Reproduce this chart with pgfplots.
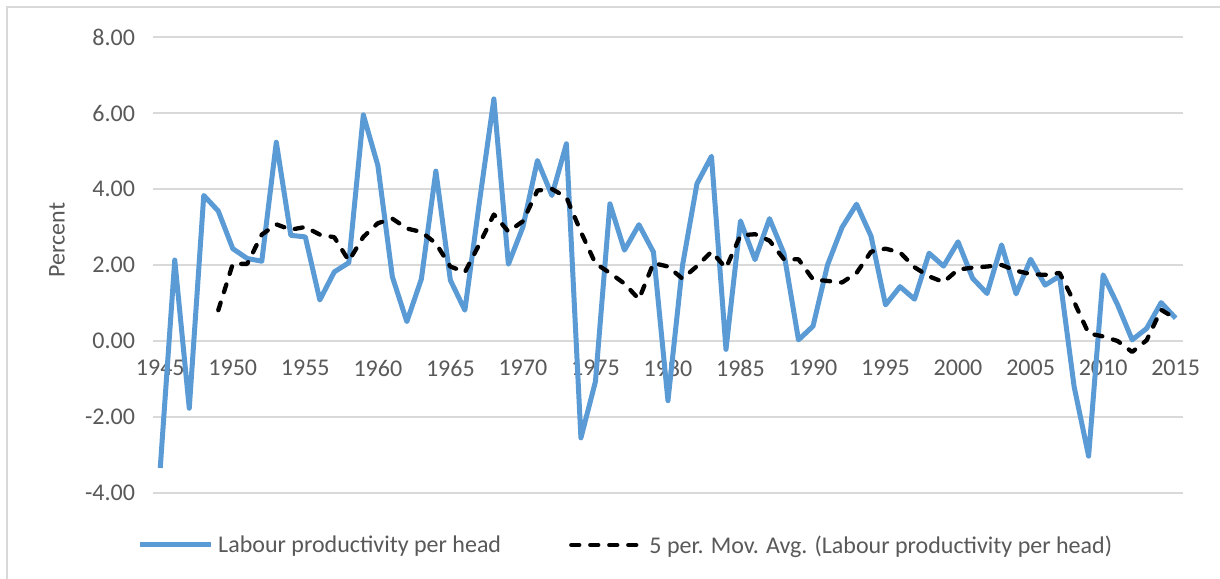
\documentclass[border=0pt]{standalone}
\usepackage{pgfplots}
\pgfplotsset{compat=1.18}
\usepackage{fontspec}
\setmainfont{Carlito}
\definecolor{lineblue}{HTML}{5B9BD5}
\definecolor{tickgray}{HTML}{595959}
\definecolor{gridgray}{HTML}{D9D9D9}
\begin{document}
\begin{tikzpicture}
\useasboundingbox (0,0) rectangle (1220bp,579bp);
\fill[white] (0,0) rectangle (1220bp,579bp);
\draw[gridgray, line width=1.5bp] (7bp,0) -- (7bp,572bp) -- (1220bp,572bp);
\begin{axis}[
  at={(153bp,86bp)}, anchor=south west,
  scale only axis, width=1030bp, height=456bp,
  xmin=1944.5, xmax=2015.5, ymin=-4, ymax=8,
  axis line style={draw=none},
  major tick length=0pt,
  ymajorgrids, grid style={gridgray, line width=1.5bp},
  ytick={-4,-2,0,2,4,6,8},
  yticklabels={-4.00,-2.00,0.00,2.00,4.00,6.00,8.00},
  xtick={1945,1950,...,2015},
  xticklabels={1945,1950,1955,1960,1965,1970,1975,1980,1985,1990,1995,2000,2005,2010,2015},
  every tick label/.append style={font=\fontsize{24bp}{28bp}\selectfont, text=tickgray},
  yticklabel style={xshift=-14.5bp},
  xticklabel style={yshift=136.5bp},
  every axis y label/.style={at={(axis description cs:-0.0932,0.555)}, rotate=90, anchor=center},
  ylabel={Percent},
  ylabel style={font=\fontsize{24bp}{28bp}\selectfont, text=tickgray},
  clip=false,
  legend columns=2,
  legend style={at={(axis description cs:-0.0155,-0.114)}, anchor=west, draw=none, fill=none, inner sep=0pt,
    font=\fontsize{24bp}{28bp}\selectfont, text=tickgray,
    nodes={inner sep=0pt, anchor=west},
    /tikz/every odd column/.append style={column sep=5bp},
    /tikz/every even column/.append style={column sep=68bp}},
  legend image code/.code={\draw[#1] (0bp,0bp) -- (71bp,0bp);},
]
\addplot[lineblue, line width=5bp, line join=round] coordinates {
(1945,-3.34) (1946,2.13) (1947,-1.77) (1948,3.83) (1949,3.42) (1950,2.43)
(1951,2.17) (1952,2.10) (1953,5.23) (1954,2.78) (1955,2.74) (1956,1.08)
(1957,1.82) (1958,2.06) (1959,5.95) (1960,4.62) (1961,1.69) (1962,0.51)
(1963,1.63) (1964,4.47) (1965,1.60) (1966,0.81) (1967,3.65) (1968,6.37)
(1969,2.02) (1970,3.00) (1971,4.75) (1972,3.83) (1973,5.19) (1974,-2.55)
(1975,-1.07) (1976,3.61) (1977,2.39) (1978,3.06) (1979,2.34) (1980,-1.57)
(1981,1.98) (1982,4.14) (1983,4.86) (1984,-0.22) (1985,3.16) (1986,2.14)
(1987,3.22) (1988,2.30) (1989,0.03) (1990,0.39) (1991,2.00) (1992,2.99)
(1993,3.60) (1994,2.76) (1995,0.95) (1996,1.43) (1997,1.10) (1998,2.31)
(1999,1.97) (2000,2.61) (2001,1.65) (2002,1.25) (2003,2.53) (2004,1.24)
(2005,2.15) (2006,1.47) (2007,1.71) (2008,-1.20) (2009,-3.03) (2010,1.74)
(2011,0.95) (2012,0.03) (2013,0.33) (2014,1.01) (2015,0.60)
};
\addlegendentry{Labour productivity per head}
\addplot[black, line width=4.3bp, line cap=round, line join=round, dash pattern=on 8bp off 11bp] coordinates {
(1949,0.81) (1950,2.03) (1951,2.03) (1952,2.80) (1953,3.07) (1954,2.93)
(1955,3.00) (1956,2.80) (1957,2.73) (1958,2.11) (1959,2.74) (1960,3.10)
(1961,3.22) (1962,2.96) (1963,2.87) (1964,2.57) (1965,1.96) (1966,1.81)
(1967,2.55) (1968,3.33) (1969,2.88) (1970,3.15) (1971,3.96) (1972,4.00)
(1973,3.78) (1974,2.87) (1975,2.04) (1976,1.79) (1977,1.51) (1978,1.10)
(1979,2.05) (1980,1.96) (1981,1.64) (1982,1.97) (1983,2.35) (1984,1.92)
(1985,2.78) (1986,2.81) (1987,2.64) (1988,2.15) (1989,2.15) (1990,1.62)
(1991,1.58) (1992,1.54) (1993,1.79) (1994,2.35) (1995,2.43) (1996,2.33)
(1997,1.94) (1998,1.70) (1999,1.55) (2000,1.88) (2001,1.93) (2002,1.96)
(2003,2.00) (2004,1.85) (2005,1.76) (2006,1.74) (2007,1.79) (2008,1.03)
(2009,0.20) (2010,0.12) (2011,0.00) (2012,-0.29) (2013,0.02) (2014,0.82)
(2015,0.59)
};
\addlegendentry{5 per. Mov. Avg. (Labour productivity per head)}
\end{axis}
\end{tikzpicture}
\end{document}
